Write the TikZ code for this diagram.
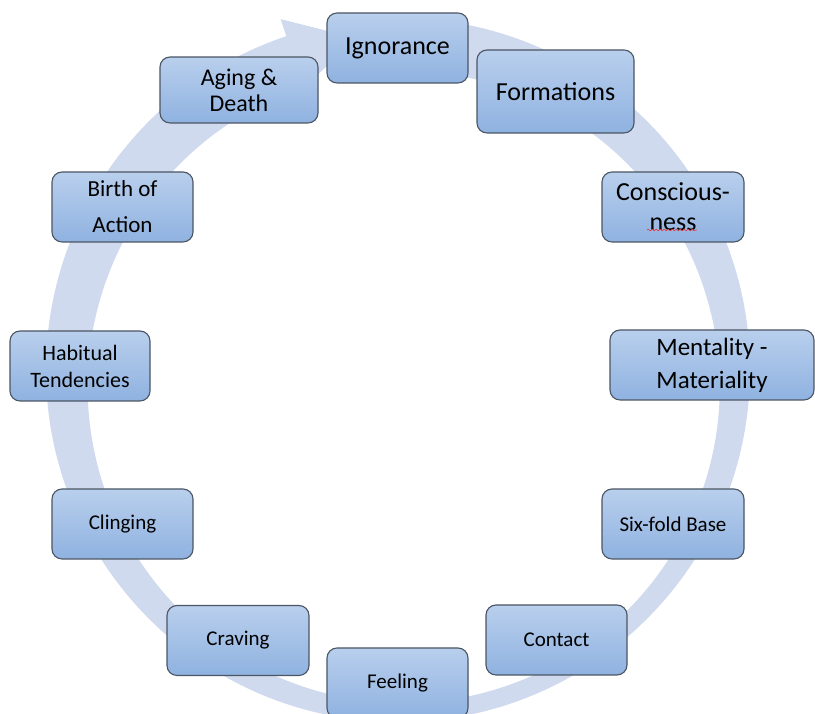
\documentclass[tikz,border=0pt]{standalone}
\usepackage{fontspec}
\setmainfont{Carlito}
\usetikzlibrary{decorations.pathmorphing}
\definecolor{ringc}{RGB}{208,218,238}
\definecolor{boxtop}{RGB}{185,207,237}
\definecolor{boxbot}{RGB}{143,178,224}
\definecolor{boxline}{RGB}{75,85,100}
\definecolor{spellred}{RGB}{220,60,70}
\tikzset{
  stage/.style={draw=boxline, line width=1.1pt, rounded corners=10pt,
    top color=boxtop, bottom color=boxbot, align=center, inner sep=0pt, text=black},
  fbig/.style={font=\fontsize{26}{30}\selectfont},
  fmid/.style={font=\fontsize{23}{27}\selectfont},
  fsmall/.style={font=\fontsize{21}{25}\selectfont},
  ring/.style={fill=ringc, draw=none}
}
\begin{document}
\begin{tikzpicture}[x=1pt,y=1pt]
\useasboundingbox (0,0) rectangle (815,714);
% circular arrow
\begin{scope}[shift={(398,344)}]
\fill[ring] (88:352) arc[start angle=88, end angle=-251.5, radius=352]
  -- (108.5:370) -- (97:334) -- (108.5:298)
  arc[start angle=-251.5, end angle=88, radius=316] -- cycle;
\end{scope}
% stages
\node[stage, fbig, minimum width=141, minimum height=70] (ign) at (397.5,666) {Ignorance};
\node[stage, fbig, minimum width=157, minimum height=83] (form) at (555.5,622.5) {Formations};
\node[stage, font=\fontsize{26}{30}\selectfont, minimum width=142, minimum height=70] (cons) at (673,507) {Conscious-\\ness};
\node[stage, font=\fontsize{25}{33}\selectfont, minimum width=204, minimum height=70] (ment) at (712,349) {Mentality -\\Materiality};
\node[stage, fsmall, minimum width=142, minimum height=70] (six) at (673,190) {Six-fold Base};
\node[stage, fsmall, minimum width=141, minimum height=70] (cont) at (556.5,74) {Contact};
\node[stage, fsmall, minimum width=141, minimum height=70] (feel) at (397.5,31) {Feeling};
\node[stage, fsmall, minimum width=142, minimum height=70] (crav) at (238,73.5) {Craving};
\node[stage, fsmall, minimum width=141, minimum height=70] (cling) at (122.5,190) {Clinging};
\node[stage, font=\fontsize{22}{27}\selectfont, minimum width=140, minimum height=70] (habit) at (80,348) {Habitual\\Tendencies};
\node[stage, font=\fontsize{23}{36}\selectfont, minimum width=141, minimum height=70] (birth) at (122.5,507) {Birth of\\Action};
\node[stage, font=\fontsize{24}{26}\selectfont, minimum width=158, minimum height=66] (aging) at (239,624) {Aging \&\\Death};
% spell-check underline
\coordinate (sp1) at ([shift={(-26,-23)}]cons.center);
\coordinate (sp2) at ([shift={(24,-23)}]cons.center);
\draw[spellred, line width=0.6pt, decorate, decoration={snake, amplitude=0.8pt, segment length=4pt}] (sp1) -- (sp2);
\end{tikzpicture}
\end{document}
